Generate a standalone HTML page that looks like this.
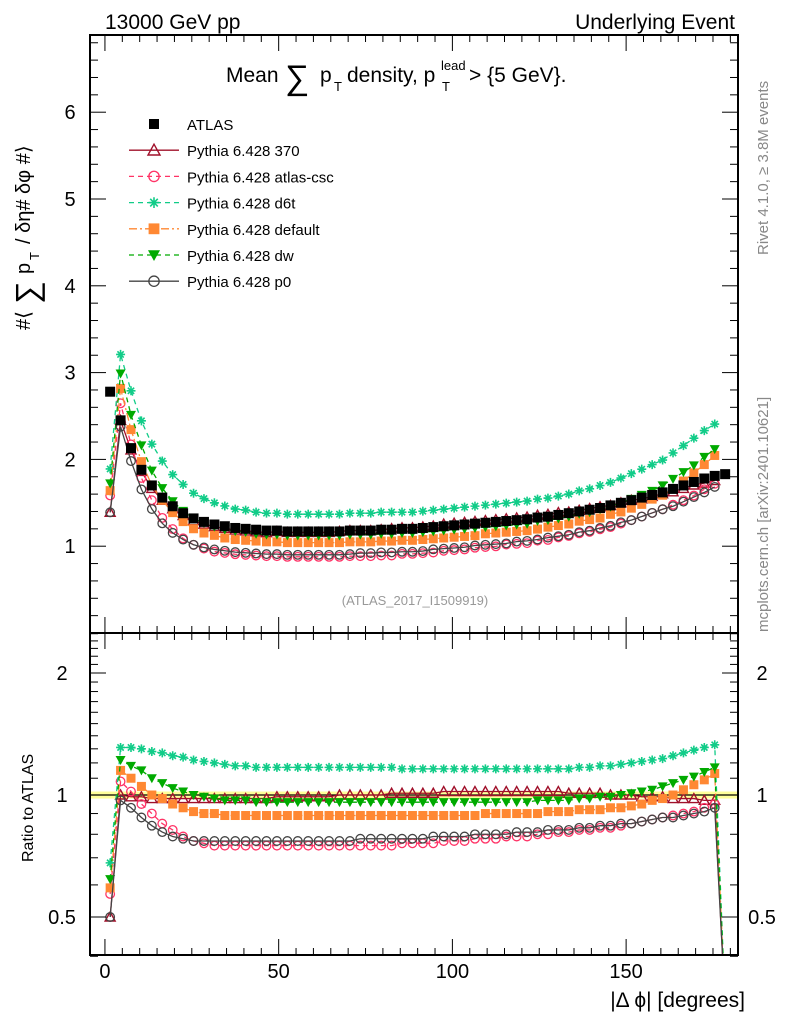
<!DOCTYPE html>
<html><head><meta charset="utf-8"><style>
html,body{margin:0;padding:0;background:#fff;}
svg{display:block;font-family:"Liberation Sans",sans-serif;}
</style></head><body>
<svg id="chart" width="786" height="1024" xmlns="http://www.w3.org/2000/svg">
<text x="105" y="29" font-size="21">13000 GeV pp</text>
<text x="735" y="29" font-size="21" text-anchor="end">Underlying Event</text>
<g font-size="21">
<text x="226" y="82">Mean</text>
<text x="285" y="89" font-size="34">∑</text>
<text x="320" y="82">p</text><text x="334" y="91" font-size="13">T</text>
<text x="347" y="82">density, p</text><text x="442" y="91" font-size="13">T</text>
<text x="441" y="70" font-size="13">lead</text>
<text x="469" y="82">&gt; {5 GeV}.</text>
</g>
<g transform="translate(30,330) rotate(-90)" font-size="20">
<text x="0" y="0">#⟨</text><text x="26" y="8" font-size="32">∑</text><text x="56" y="0">p</text><text x="70" y="9" font-size="13">T</text><text x="86" y="0"> / δη# δφ #⟩</text>
</g>
<text transform="translate(33,862) rotate(-90)" font-size="16">Ratio to ATLAS</text>
<text x="745" y="1007" font-size="21" text-anchor="end">|Δ ϕ| [degrees]</text>
<text transform="translate(768,255) rotate(-90)" font-size="15" fill="#888">Rivet 4.1.0, ≥ 3.8M events</text>
<text transform="translate(768,632) rotate(-90)" font-size="15" fill="#888">mcplots.cern.ch [arXiv:2401.10621]</text>
<text x="415" y="605" font-size="13" fill="#999" text-anchor="middle">(ATLAS_2017_I1509919)</text>
</svg>
<script>
const binCenters = [];
for (let i = 0; i < 60; i++) binCenters.push(1.5 + 3 * i);
const atlas = [2.78,2.45,2.13,1.88,1.70,1.56,1.46,1.38,1.32,1.28,1.25,1.23,1.21,1.20,1.19,1.18,1.18,1.17,1.17,1.17,1.17,1.17,1.17,1.18,1.18,1.18,1.19,1.19,1.20,1.20,1.21,1.22,1.23,1.24,1.25,1.26,1.27,1.28,1.29,1.30,1.31,1.33,1.34,1.36,1.38,1.40,1.42,1.44,1.47,1.50,1.53,1.56,1.59,1.62,1.66,1.70,1.74,1.78,1.81,1.83];
const ratio370 = [0.50,1.00,0.99,0.99,0.98,0.98,0.98,0.98,0.98,0.98,0.98,0.98,0.98,0.98,0.98,0.98,0.99,0.99,0.99,0.99,0.99,0.99,1.00,1.00,1.00,1.00,1.00,1.01,1.01,1.01,1.01,1.01,1.02,1.02,1.02,1.02,1.02,1.02,1.02,1.02,1.02,1.02,1.02,1.02,1.01,1.01,1.01,1.01,1.00,1.00,1.00,0.99,0.99,0.99,0.98,0.98,0.98,0.97,0.97,0];
const ratioCsc = [0.57,1.08,1.02,0.95,0.90,0.85,0.82,0.79,0.77,0.76,0.75,0.75,0.75,0.75,0.75,0.75,0.75,0.75,0.75,0.75,0.75,0.75,0.75,0.75,0.75,0.75,0.75,0.75,0.76,0.76,0.76,0.76,0.77,0.77,0.77,0.78,0.78,0.78,0.79,0.79,0.79,0.80,0.80,0.81,0.81,0.82,0.82,0.83,0.83,0.84,0.85,0.86,0.87,0.88,0.89,0.90,0.91,0.93,0.95,0];
const ratioD6t = [0.68,1.31,1.31,1.30,1.28,1.27,1.25,1.24,1.22,1.21,1.20,1.19,1.18,1.18,1.17,1.17,1.17,1.17,1.17,1.17,1.17,1.17,1.17,1.17,1.17,1.17,1.17,1.17,1.16,1.16,1.16,1.16,1.16,1.16,1.16,1.16,1.16,1.16,1.16,1.16,1.16,1.16,1.16,1.16,1.16,1.17,1.17,1.18,1.18,1.19,1.20,1.21,1.22,1.23,1.25,1.27,1.29,1.31,1.33,0];
const ratioDefault = [0.59,1.15,1.10,1.05,1.00,0.98,0.95,0.93,0.91,0.90,0.90,0.89,0.89,0.89,0.89,0.89,0.89,0.89,0.89,0.89,0.89,0.89,0.89,0.89,0.89,0.89,0.89,0.89,0.89,0.89,0.89,0.89,0.89,0.89,0.89,0.89,0.90,0.90,0.90,0.90,0.90,0.90,0.91,0.91,0.91,0.92,0.92,0.92,0.93,0.93,0.94,0.95,0.97,0.98,1.00,1.03,1.06,1.09,1.13,0];
const ratioDw = [0.62,1.22,1.18,1.15,1.10,1.07,1.04,1.02,1.00,0.99,0.98,0.97,0.97,0.97,0.96,0.96,0.96,0.96,0.96,0.96,0.96,0.96,0.96,0.96,0.96,0.96,0.96,0.96,0.96,0.96,0.96,0.96,0.96,0.96,0.96,0.96,0.96,0.96,0.96,0.96,0.96,0.97,0.97,0.97,0.97,0.98,0.98,0.99,0.99,1.00,1.01,1.02,1.03,1.05,1.07,1.09,1.11,1.14,1.17,0];
const ratioP0 = [0.50,0.97,0.93,0.88,0.84,0.81,0.79,0.78,0.77,0.77,0.77,0.77,0.77,0.77,0.77,0.77,0.77,0.77,0.77,0.77,0.77,0.77,0.77,0.77,0.78,0.78,0.78,0.78,0.78,0.78,0.78,0.79,0.79,0.79,0.79,0.80,0.80,0.80,0.80,0.81,0.81,0.81,0.82,0.82,0.82,0.83,0.83,0.84,0.84,0.85,0.85,0.86,0.87,0.88,0.88,0.89,0.90,0.91,0.93,0];
const xTicks = [0,50,100,150];
const yTicks = [1,2,3,4,5,6];
const rTicks = [0.5,1,2];
const legendLabels = ["ATLAS","Pythia 6.428 370","Pythia 6.428 atlas-csc","Pythia 6.428 d6t","Pythia 6.428 default","Pythia 6.428 dw","Pythia 6.428 p0"];

const NS = "http://www.w3.org/2000/svg";
const svg = document.getElementById('chart');
const L = 90, R = 738, MT = 35, MB = 633, RB = 955;
const X0 = -4.3, X1 = 182.2;
const sx = v => L + (v - X0) / (X1 - X0) * (R - L);
const sy = v => MB - v * 86.8;
const sr = v => 795 - Math.log2(v) * 122;
function el(tag, attrs, parent) {
  const e = document.createElementNS(NS, tag);
  for (const k in attrs) e.setAttribute(k, attrs[k]);
  (parent || svg).appendChild(e);
  return e;
}
const defs = el('defs', {});
const c1 = el('clipPath', {id: 'cm'}, defs); el('rect', {x: L, y: MT, width: R - L, height: MB - MT}, c1);
const c2 = el('clipPath', {id: 'cr'}, defs); el('rect', {x: L, y: MB, width: R - L, height: RB - MB}, c2);

const series = [
  {r: ratio370, color: '#a0102a', dash: '', marker: 'tri', fill: 'none', name: 's370'},
  {r: ratioCsc, color: '#ff3366', dash: '5,4', marker: 'circ', fill: 'none', name: 'atlas-csc'},
  {r: ratioD6t, color: '#11cc88', dash: '5,4', marker: 'star', fill: 'none', name: 'd6t'},
  {r: ratioDefault, color: '#ff8833', dash: '8,3,2,3', marker: 'sq', fill: '#ff8833', name: 'default'},
  {r: ratioDw, color: '#00aa00', dash: '5,4', marker: 'tdown', fill: '#00aa00', name: 'dw'},
  {r: ratioP0, color: '#444444', dash: '', marker: 'circ', fill: 'none', name: 'p0'}
];
function marker(type, x, y, color, fill, g, s) {
  s = s || 1;
  let m;
  if (type === 'tri') m = el('polygon', {points: `${x},${y-5*s} ${x-5*s},${y+4*s} ${x+5*s},${y+4*s}`, fill: 'none', stroke: color, 'stroke-width': 1.4}, g);
  else if (type === 'tdown') m = el('polygon', {points: `${x-5*s},${y-4*s} ${x+5*s},${y-4*s} ${x},${y+5*s}`, fill: fill}, g);
  else if (type === 'circ') m = el('circle', {cx: x, cy: y, r: 4.3*s, fill: 'none', stroke: color, 'stroke-width': 1.3}, g);
  else if (type === 'sq') m = el('rect', {x: x-4.5*s, y: y-4.5*s, width: 9*s, height: 9*s, fill: fill}, g);
  else if (type === 'big') m = el('rect', {x: x-5*s, y: y-5*s, width: 10*s, height: 10*s, fill: '#000'}, g);
  else if (type === 'star') {
    const d = 4.5*s;
    m = el('path', {d: `M${x-d},${y}H${x+d}M${x},${y-d}V${y+d}M${x-d*0.7},${y-d*0.7}L${x+d*0.7},${y+d*0.7}M${x-d*0.7},${y+d*0.7}L${x+d*0.7},${y-d*0.7}`, stroke: color, 'stroke-width': 1.6}, g);
  }
  return m;
}

const band = el('rect', {x: L, y: sr(1.02), width: R - L, height: sr(0.98) - sr(1.02), fill: '#ffff99', 'clip-path': 'url(#cr)'});


const refLine = el('line', {x1: L, x2: R, y1: sr(1), y2: sr(1), stroke: '#000', 'stroke-width': 1.2});



series.forEach(s => {
  const vals = s.r.map((r, i) => r * atlas[i]);
  const g = el('g', {'clip-path': 'url(#cm)'});
  
  
  const pts = [];
  vals.forEach((v, i) => { if (v > 0) pts.push([sx(binCenters[i]), sy(v)]); });
  el('polyline', {points: pts.map(p => p.join(',')).join(' '), fill: 'none', stroke: s.color, 'stroke-width': 1.3, 'stroke-dasharray': s.dash}, g);
  pts.forEach(p => marker(s.marker, p[0], p[1], s.color, s.fill, g));
  const gr = el('g', {'clip-path': 'url(#cr)'});
  
  
  const rp = s.r.map((r, i) => [sx(binCenters[i]), r > 0 ? sr(r) : RB + 50]);
  el('polyline', {points: rp.map(p => p.join(',')).join(' '), fill: 'none', stroke: s.color, 'stroke-width': 1.3, 'stroke-dasharray': s.dash}, gr);
  rp.forEach(p => { if (p[1] < RB) marker(s.marker, p[0], p[1], s.color, s.fill, gr); });
});
const ga = el('g', {'clip-path': 'url(#cm)'});


atlas.forEach((v, i) => marker('big', sx(binCenters[i]), sy(v), '#000', '#000', ga));

const axes = el('g', {stroke: '#000', fill: 'none'});


el('rect', {x: L, y: MT, width: R - L, height: MB - MT, 'stroke-width': 2}, axes);
el('rect', {x: L, y: MB, width: R - L, height: RB - MB, 'stroke-width': 2}, axes);
for (let v = 0; v <= 6.8; v = Math.round((v + 0.2) * 10) / 10) {
  const major = Math.abs(v - Math.round(v)) < 1e-6;
  const len = major ? 16 : 8, y = sy(v);
  el('line', {x1: L, x2: L + len, y1: y, y2: y}, axes);
  el('line', {x1: R, x2: R - len, y1: y, y2: y}, axes);
}
const rMinor = [0.4,0.6,0.7,0.8,0.9,1.1,1.2,1.3,1.4,1.5,1.6,1.7,1.8,1.9,2.1,2.2,2.3,2.4,2.5];
rMinor.concat(rTicks).forEach(v => {
  const len = rTicks.includes(v) ? 16 : 8, y = sr(v);
  el('line', {x1: L, x2: L + len, y1: y, y2: y}, axes);
  el('line', {x1: R, x2: R - len, y1: y, y2: y}, axes);
});
for (let v = 0; v <= 180; v += 5) {
  const len = v % 50 === 0 ? 16 : 7, x = sx(v);
  [MB, RB].forEach(b => el('line', {x1: x, x2: x, y1: b, y2: b - len}, axes));
  [MT, MB].forEach(t => el('line', {x1: x, x2: x, y1: t, y2: t + len}, axes));
}
yTicks.forEach(v => {
  const t = el('text', {x: 70, y: sy(v) + 7, 'font-size': 20, 'text-anchor': 'middle'});
  t.textContent = v;
  
  
});
rTicks.forEach(v => {
  [62, 762].forEach(x => {
    const t = el('text', {x: x, y: sr(v) + 7, 'font-size': 20, 'text-anchor': 'middle'});
    t.textContent = v;
    
    
  });
});
xTicks.forEach(v => {
  const t = el('text', {x: sx(v), y: 978, 'font-size': 20, 'text-anchor': 'middle'});
  t.textContent = v;
  
  
});

const leg = el('g', {});


legendLabels.forEach((lab, i) => {
  const y = 124 + i * 26.2;
  const row = el('g', {}, leg);
  
  
  if (i === 0) marker('big', 154, y, '#000', '#000', row);
  else {
    const s = series[i - 1];
    el('line', {x1: 129, x2: 179, y1: y, y2: y, stroke: s.color, 'stroke-width': 1.3, 'stroke-dasharray': s.dash}, row);
    marker(s.marker, 154, y, s.color, s.fill, row, 1.2);
  }
  const t = el('text', {x: 187, y: y + 6, 'font-size': 15}, row);
  t.textContent = lab;
});
</script>
</body></html>
